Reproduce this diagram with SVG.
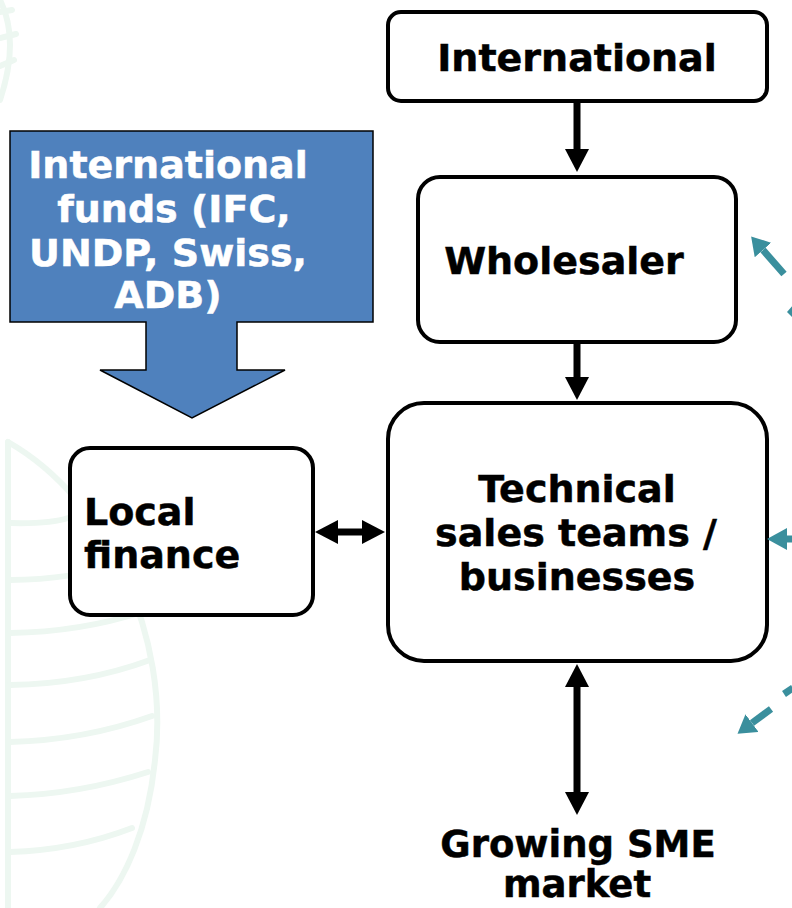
<svg xmlns="http://www.w3.org/2000/svg" width="792" height="908" viewBox="0 0 792 908">
<style>
.bg{fill:none;stroke:#edf7f1;stroke-width:6;stroke-linecap:round}
.box{fill:#fff;stroke:#000;stroke-width:4}
.t{font-family:"DejaVu Sans","Verdana",sans-serif;font-weight:bold;font-size:38px;fill:#000;stroke:#000;stroke-width:0.5}
.s{font-size:37px}
.w{fill:#fff;stroke:#fff}
.c{stroke:#000;stroke-width:7;fill:none}
.tl{stroke:#3a8f9d;stroke-width:7;fill:none}
</style>
<defs>
<marker id="ah" viewBox="0 0 23 24" markerWidth="23" markerHeight="24" refX="0" refY="12" orient="auto-start-reverse" markerUnits="userSpaceOnUse">
<path d="M0,0 L23,12 L0,24 z" fill="#000"/>
</marker>
<marker id="th" viewBox="0 0 18 22" markerWidth="18" markerHeight="22" refX="0" refY="11" orient="auto" markerUnits="userSpaceOnUse">
<path d="M0,0 L18,11 L0,22 z" fill="#3a8f9d"/>
</marker>
</defs>
<rect width="792" height="908" fill="#fff"/>
<g id="watermark">
<path class="bg" d="M8,442 L8,908"/>
<path class="bg" d="M8,442 C110,500 170,640 155,760 C148,830 125,880 100,908"/>
<path class="bg" d="M10,523 Q50,524 68,518"/>
<path class="bg" d="M10,580 Q70,580 128,562"/>
<path class="bg" d="M10,633 Q80,632 142,612"/>
<path class="bg" d="M10,685 Q85,684 150,660"/>
<path class="bg" d="M10,742 Q85,740 152,716"/>
<path class="bg" d="M10,796 Q80,794 148,772"/>
<path class="bg" d="M10,852 Q75,850 132,828"/>
<path class="bg" d="M0,0 Q20,40 0,100"/>
<path class="bg" d="M0,12 L12,10"/>
<path class="bg" d="M0,38 L16,34"/>
<path class="bg" d="M0,66 L14,60"/>
</g>
<g id="funds">
<path d="M10,131 L373,131 L373,322 L237,322 L237,370 L285,370 L192,418 L100,370 L146,370 L146,322 L10,322 Z" fill="#4f81bd" stroke="#000" stroke-width="1.5"/>
<text class="t w" x="168" y="178" text-anchor="middle">International</text>
<text class="t w" x="174" y="222" text-anchor="middle">funds (IFC,</text>
<text class="t w" x="168" y="266" text-anchor="middle">UNDP, Swiss,</text>
<text class="t w" x="168" y="308" text-anchor="middle">ADB)</text>
</g>
<g id="international">
<rect class="box" x="388" y="12" width="379" height="89" rx="13"/>
<text class="t" x="577" y="71" text-anchor="middle">International</text>
</g>
<g id="wholesaler">
<rect class="box" x="418" y="177" width="318" height="165" rx="22"/>
<text class="t" x="564" y="274" text-anchor="middle">Wholesaler</text>
</g>
<g id="technical">
<rect class="box" x="388" y="403" width="379" height="258" rx="36"/>
<text class="t" x="577" y="502" text-anchor="middle">Technical</text>
<text class="t" x="576" y="546" text-anchor="middle">sales teams /</text>
<text class="t" x="577" y="590" text-anchor="middle">businesses</text>
</g>
<g id="local">
<rect class="box" x="70" y="448" width="243" height="167" rx="20"/>
<text class="t" x="84" y="525">Local</text>
<text class="t" x="84" y="568">finance</text>
</g>
<g id="sme">
<text class="t s" x="578" y="857" text-anchor="middle">Growing SME</text>
<text class="t s" x="577" y="897" text-anchor="middle">market</text>
</g>
<g id="connectors">
<line class="c" x1="577" y1="101" x2="577" y2="149" marker-end="url(#ah)"/>
<line class="c" x1="577" y1="342" x2="577" y2="377" marker-end="url(#ah)"/>
<line class="c" x1="338" y1="532" x2="362" y2="532" marker-start="url(#ah)" marker-end="url(#ah)"/>
<line class="c" x1="577" y1="687" x2="577" y2="792" marker-start="url(#ah)" marker-end="url(#ah)"/>
<line class="tl" x1="784" y1="274" x2="763" y2="250" marker-end="url(#th)"/>
<path d="M787,312 L793,305 L793,318 Z" fill="#3a8f9d"/>
<line class="tl" x1="792" y1="539" x2="786" y2="539"/>
<path d="M767,539 L787,528 L787,550 Z" fill="#3a8f9d"/>
<line class="tl" x1="771" y1="709" x2="752" y2="723" marker-end="url(#th)"/>
<line class="tl" x1="784" y1="694" x2="793" y2="688"/>
</g>
</svg>
